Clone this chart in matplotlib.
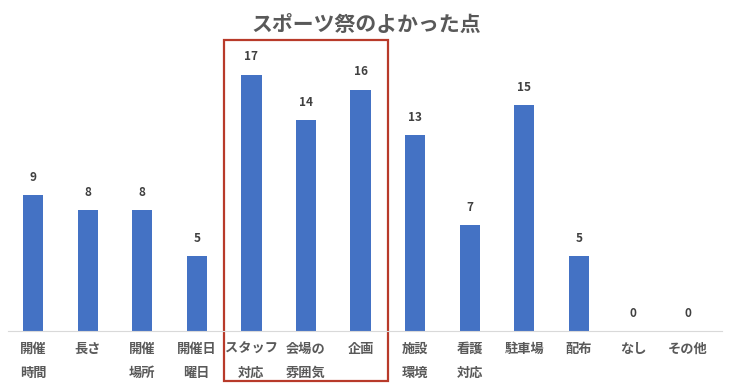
import matplotlib.pyplot as plt
from matplotlib.patches import Rectangle
import matplotlib.transforms as mtransforms

plt.rcParams['font.family'] = ['Noto Sans CJK JP', 'DejaVu Sans']

categories = ["開催\n時間", "長さ", "開催\n場所", "開催日\n曜日", "スタッフ\n対応", "会場の\n雰囲気",
              "企画", "施設\n環境", "看護\n対応", "駐車場", "配布", "なし", "その他"]
counts = [9, 8, 8, 5, 17, 14, 16, 13, 7, 15, 5, 0, 0]
highlight = [4, 5, 6]  # スタッフ対応, 会場の雰囲気, 企画

fig = plt.figure(figsize=(7.32, 3.9), dpi=100)
ax = fig.add_axes([0.011, 0.151, 0.975, 0.716])

x = list(range(len(categories)))
bars = ax.bar(x, counts, width=0.37, color="#4472C4")
for b, v in zip(bars, counts):
    ax.annotate(str(v), (b.get_x() + b.get_width() / 2, v), xytext=(0, 8),
                textcoords="offset points", ha="center", va="bottom",
                fontsize=8.5, fontweight="bold", color="#404040")

ax.set_xlim(-0.46, 12.62)
ax.set_ylim(0, 18.5)
ax.set_xticks(x)
ax.set_xticklabels(categories, fontsize=9.5, color="#595959", linespacing=1.9,
                   va="top", fontweight="bold")
ax.tick_params(axis="x", length=0, pad=8)
ax.set_yticks([])
for s in ["top", "right", "left"]:
    ax.spines[s].set_visible(False)
ax.spines["bottom"].set_color("#D9D9D9")

fig.suptitle("スポーツ祭のよかった点", y=0.965, fontsize=15, fontweight="bold", color="#595959")

# red box around the highlighted categories
trans = mtransforms.blended_transform_factory(ax.transData, ax.transAxes)
x0 = highlight[0] - 0.5
x1 = highlight[-1] + 0.5
ax.add_patch(Rectangle((x0, -0.18), x1 - x0, 1.222, transform=trans, fill=False,
                       edgecolor="#B83A2A", linewidth=1.6, clip_on=False))

fig.savefig("out.png", dpi=100)
